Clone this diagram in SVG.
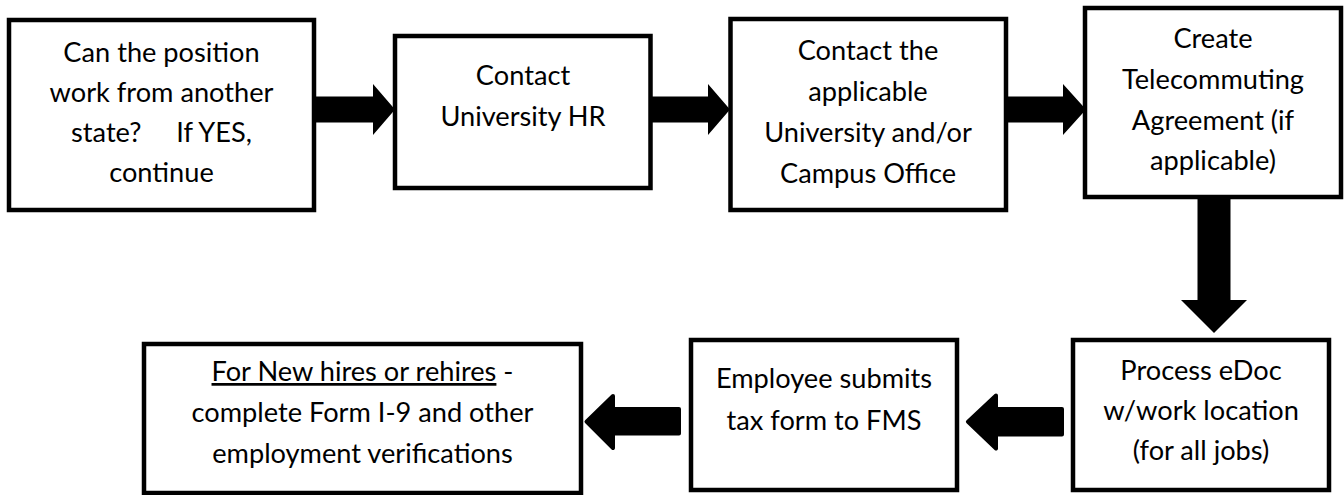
<svg xmlns="http://www.w3.org/2000/svg" width="1344" height="495" viewBox="0 0 1344 495">
<style>
.box{fill:#fff;stroke:#000;stroke-width:4.5}
.t{font-family:Lato,"Liberation Sans",sans-serif;font-size:27.2px;fill:#000;text-anchor:middle}
.arr{fill:#000;stroke:none}
.arr2{fill:#000;stroke:#000;stroke-width:4;stroke-linejoin:round}
</style>
<rect width="1344" height="495" fill="#fff"/>
<g id="connectors">
<path class="arr" d="M316,96.5 H373 V84 L395,109.5 L373,135 V122.5 H316 Z"/>
<path class="arr" d="M652,96.5 H708 V84 L730,109.5 L708,135 V122.5 H652 Z"/>
<path class="arr" d="M1008,96.5 H1063 V84 L1086,109.5 L1063,135 V122.5 H1008 Z"/>
<path class="arr" d="M1197.5,199 H1230.5 V300 H1247 L1214,333 L1181,300 H1197.5 Z"/>
<path class="arr2" d="M1062,409 H996 V395.5 L968,421.7 L996,448.5 V434.5 H1062 Z"/>
<path class="arr2" d="M679,409 H613 V396 L586.5,421.7 L613,448 V433.5 H679 Z"/>
</g>
<g id="n1">
<rect class="box" x="9" y="20" width="305" height="190"/>
<text class="t" x="161.5" y="62">Can the position</text>
<text class="t" x="161.5" y="102">work from another</text>
<text class="t" x="161.5" y="142" style="white-space:pre">state?     If YES,</text>
<text class="t" x="161.5" y="182">continue</text>
</g>
<g id="n2">
<rect class="box" x="395" y="36" width="255.5" height="152"/>
<text class="t" x="523" y="85">Contact</text>
<text class="t" x="523" y="126">University HR</text>
</g>
<g id="n3">
<rect class="box" x="730.5" y="19" width="275.5" height="191"/>
<text class="t" x="868" y="60">Contact the</text>
<text class="t" x="868" y="101">applicable</text>
<text class="t" x="868" y="142">University and/or</text>
<text class="t" x="868" y="183">Campus Office</text>
</g>
<g id="n4">
<rect class="box" x="1085" y="8" width="256" height="189"/>
<text class="t" x="1213" y="48">Create</text>
<text class="t" x="1213" y="89">Telecommuting</text>
<text class="t" x="1213" y="130">Agreement (if</text>
<text class="t" x="1213" y="170">applicable)</text>
</g>
<g id="n5">
<rect class="box" x="1073" y="340" width="256" height="150"/>
<text class="t" x="1201" y="380">Process eDoc</text>
<text class="t" x="1201" y="420">w/work location</text>
<text class="t" x="1201" y="460">(for all jobs)</text>
</g>
<g id="n6">
<rect class="box" x="691" y="340" width="266" height="150"/>
<text class="t" x="824" y="388">Employee submits</text>
<text class="t" x="824" y="430">tax form to FMS</text>
</g>
<g id="n7">
<rect class="box" x="144" y="344" width="437" height="149"/>
<text class="t" x="362.5" y="381"><tspan text-decoration="underline">For New hires or rehires</tspan> -</text>
<text class="t" x="362.5" y="422">complete Form I-9 and other</text>
<text class="t" x="362.5" y="463">employment verifications</text>
</g>
</svg>
